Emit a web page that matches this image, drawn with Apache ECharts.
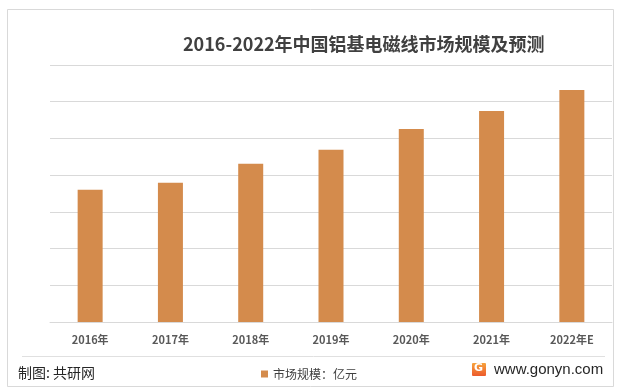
<!DOCTYPE html>
<html>
<head>
<meta charset="utf-8">
<script src="https://cdn.jsdelivr.net/npm/echarts@6/dist/echarts.min.js"></script>
<style>
html,body{margin:0;padding:0;background:#fff;}
#c{width:622px;height:392px;}
</style>
</head>
<body>
<div id="c"></div>
<script>
const titleText = '2016-2022年中国铝基电磁线市场规模及预测';
const categories = ['2016年','2017年','2018年','2019年','2020年','2021年','2022年E'];
const seriesName = '市场规模：亿元';
const marketSize = [36.0, 37.9, 43.1, 46.9, 52.6, 57.5, 63.2];
const sourceText = '制图: 共研网';
const siteText = 'www.gonyn.com';

const FONT = '"Noto Sans CJK SC", "Noto Sans", sans-serif';
const chart = echarts.init(document.getElementById('c'), null, {renderer:'canvas'});
chart.setOption({
  animation: false,
  backgroundColor: '#fff',
  title: {
    text: titleText,
    left: 178,
    top: 30,
    textStyle: {fontFamily: FONT, fontSize: 18, fontWeight: 'bold', color: '#404040'}
  },
  legend: {
    data: [seriesName],
    left: 256,
    top: 363,
    icon: 'rect',
    itemWidth: 7,
    itemHeight: 7,
    textStyle: {fontFamily: FONT, fontSize: 12, color: '#404040'}
  },
  grid: {left: 50, right: 10, top: 65, bottom: 70, containLabel: false},
  xAxis: {
    type: 'category',
    data: categories,
    axisLine: {show: true, lineStyle: {color: '#d9d9d9', width: 1}},
    axisTick: {show: false},
    axisLabel: {fontFamily: FONT, fontSize: 11, fontWeight: 'bold', color: '#595959', margin: 12}
  },
  yAxis: {
    type: 'value',
    min: 0, max: 70, interval: 10,
    axisLabel: {show: false},
    axisLine: {show: false},
    axisTick: {show: false},
    splitLine: {show: true, lineStyle: {color: '#d9d9d9', width: 1}}
  },
  series: [{
    name: seriesName,
    type: 'bar',
    data: marketSize,
    barWidth: 25,
    itemStyle: {color: '#D48B4C'}
  }],
  graphic: [
    {type: 'rect', shape: {x: 7.5, y: 9.5, width: 606, height: 377}, style: {fill: 'none', stroke: '#d9d9d9', lineWidth: 1}, silent: true, z: -1},
    {type: 'line', shape: {x1: 22, y1: 356.5, x2: 605, y2: 356.5}, style: {stroke: '#e0e0e0', lineWidth: 1}, silent: true},
    {type: 'text', left: 18, top: 366, style: {text: sourceText, fontFamily: FONT, fontSize: 14, fill: '#262626'}},
    {type: 'rect', shape: {x: 472, y: 363, width: 14, height: 13, r: 1},
      style: {fill: new echarts.graphic.LinearGradient(0,0,0,1,[{offset:0,color:'#f7a33c'},{offset:1,color:'#ec5a2c'}])}},
    {type: 'text', left: 474, top: 363, style: {text: 'G', fontFamily: 'DejaVu Sans', fontSize: 11, fontWeight: 'bold', fill: '#fff'}},
    {type: 'text', left: 494, top: 362, style: {text: siteText, fontFamily: '"Liberation Sans", Arial, sans-serif', fontSize: 15, fill: '#262626'}}
  ]
});
</script>
</body>
</html>
